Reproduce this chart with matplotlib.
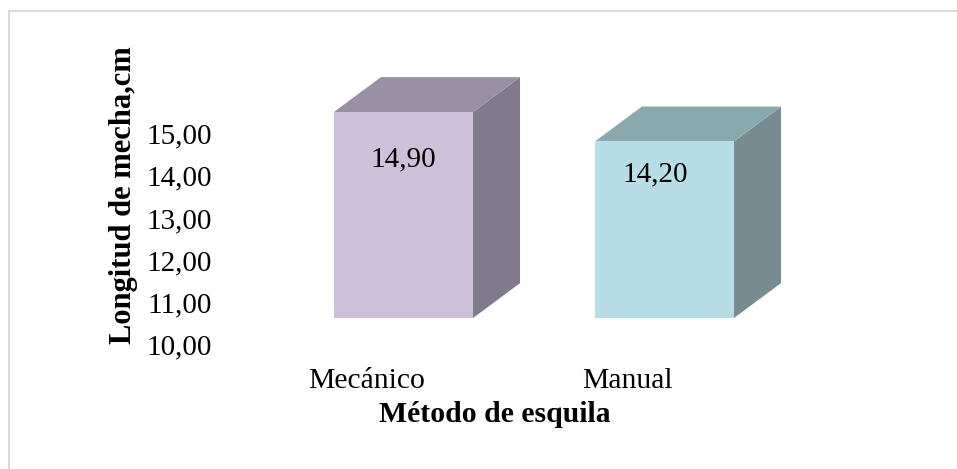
import matplotlib.pyplot as plt
from matplotlib.patches import Polygon, Rectangle
from matplotlib.transforms import offset_copy

# datos
metodos = ['Mecánico', 'Manual']
longitud = [14.90, 14.20]
y_ticks = [10, 11, 12, 13, 14, 15]

# colores: cara frontal, techo y lateral de cada columna
col_frente = ['#CDC0DA', '#B7DEE8']
col_techo = ['#9A90A4', '#8AA9AF']
col_lado = ['#807A8A', '#768C91']

# desplazamiento (pt) de cada etiqueta de valor respecto al techo
desp_etiq = [(0, -34), (-6.5, -24)]

base = 10.0
ancho = 0.533
prof_x, prof_y = 0.18, 0.83   # profundidad del efecto 3D

plt.rcParams['font.family'] = ['Liberation Serif', 'DejaVu Serif']

fig = plt.figure(figsize=(9.57, 4.69), dpi=100)

# marco gris del grafico
fig.patches.append(Rectangle((9 / 957, -0.02), 1.0, 1 - 11 / 469 + 0.02,
                             transform=fig.transFigure, fill=False,
                             ec='#d9d9d9', lw=1.5))

ax = fig.add_axes([300 / 957, 1 - 340 / 469, 550 / 957, 300 / 469])
ax.set_xlim(-0.3966, 1.711)
ax.set_ylim(9.477, 16.613)
ax.axis('off')

for i, v in enumerate(longitud):
    x0 = i - ancho / 2
    x1 = i + ancho / 2
    ax.add_patch(Polygon([(x1, base), (x1 + prof_x, base + prof_y),
                          (x1 + prof_x, v + prof_y), (x1, v)],
                         closed=True, fc=col_lado[i], ec='none'))
    ax.add_patch(Polygon([(x0, v), (x1, v), (x1 + prof_x, v + prof_y),
                          (x0 + prof_x, v + prof_y)],
                         closed=True, fc=col_techo[i], ec='none'))
    ax.add_patch(Rectangle((x0, base), ancho, v - base,
                           fc=col_frente[i], ec='none'))
    ax.annotate(f'{v:.2f}'.replace('.', ','), xy=(i, v),
                xytext=desp_etiq[i], textcoords='offset points',
                ha='center', va='center', fontsize=21)

# etiquetas del eje vertical (desplazadas por la perspectiva)
tr_y = offset_copy(ax.get_yaxis_transform(), fig=fig, y=-29, units='dots')
for t in y_ticks:
    ax.text(-0.16, t, f'{t:.2f}'.replace('.', ','), transform=tr_y,
            ha='right', va='center', fontsize=21)

# etiquetas de categorias
tr_x = offset_copy(ax.get_xaxis_transform(), fig=fig, x=-37, units='dots')
for i, m in enumerate(metodos):
    ax.text(i, -0.137, m, transform=tr_x, ha='center', va='center',
            fontsize=21.3)

fig.text(124 / 957, 1 - 195 / 469, 'Longitud de mecha,cm', rotation=90,
         ha='center', va='center', fontsize=22, fontweight='bold')
fig.text(495 / 957, 1 - 414 / 469, 'Método de esquila', ha='center',
         va='center', fontsize=21.4, fontweight='bold')

fig.savefig('out.png', dpi=100)
